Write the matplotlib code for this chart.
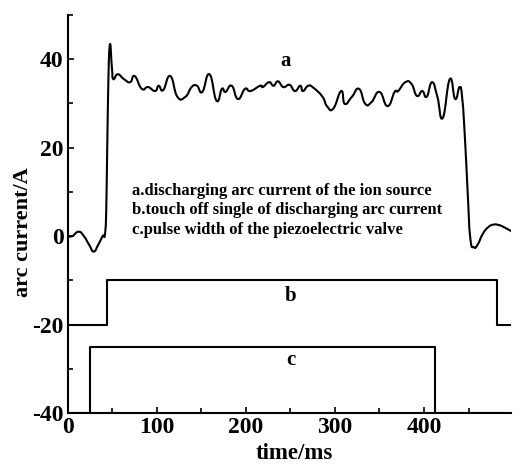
import matplotlib
matplotlib.use("Agg")
import matplotlib.pyplot as plt
from matplotlib.ticker import MultipleLocator, FuncFormatter
from matplotlib.path import Path
from matplotlib.patches import PathPatch

plt.rcParams['font.family'] = ['Liberation Serif', 'DejaVu Serif']
plt.rcParams['font.weight'] = 'bold'
plt.rcParams['axes.unicode_minus'] = False

# curve a: discharging arc current (ms, A)
t_a = [0, 5, 12, 18, 24, 29, 34, 39, 42, 43.5, 45, 47, 49.5, 51, 56, 63, 70, 75, 83, 90, 98, 102,
       107, 115, 123, 132, 139, 145, 151, 159, 167, 173, 177, 184, 191, 199, 205, 216, 219,
       226, 231, 236, 242, 249, 255, 261, 264, 270, 276, 286, 291, 298, 307, 311, 319, 327,
       334, 341, 350, 359, 367, 371, 379, 386, 392, 398, 403, 409, 415, 421, 429, 435, 440,
       443, 446, 449, 452, 456, 460, 466, 472, 478, 484, 490, 498]
v_a = [0, 0, 1, 0, -2, -3.5, -2, 0, 1, 10, 30, 43, 38, 35.5, 36.6, 35.5, 34.8, 36.2, 33.3, 33.7,
       32.8, 34, 33, 36.2, 31.5, 31.5, 33.7, 34, 32.6, 36.6, 30.6, 33.3, 32.6, 34, 31, 33.3,
       32.8, 34, 33.7, 34.8, 34, 35, 33.7, 34.2, 32.8, 34, 32.8, 34, 33.5, 31.5, 29.4, 28.8,
       32.8, 29.9, 31.5, 33.3, 29.9, 30.3, 32.6, 29.4, 32.6, 32.8, 34.8, 34.4, 31.7, 32.8,
       31.5, 34.8, 31.5, 26.7, 35.5, 31, 33.7, 31, 22, 10, -0.5, -2.5, -2, 0.5, 2, 2.6, 2.5, 2, 1.1]

# curve b: trigger signal
t_b = [0, 44, 44, 482, 482, 498]
v_b = [-20, -20, -10, -10, -20, -20]

# curve c: piezoelectric valve pulse width
t_c = [0, 25, 25, 412, 412, 498]
v_c = [-40, -40, -25, -25, -40, -40]

legend_lines = ["a.discharging arc current of the ion source",
                "b.touch off single of discharging arc current",
                "c.pulse width of the piezoelectric valve"]


def smooth_path(xs, ys, k=0.5):
    """Catmull-Rom style cubic Bezier path through the given points."""
    n = len(xs)
    verts = [(xs[0], ys[0])]
    codes = [Path.MOVETO]
    for i in range(n - 1):
        x0, y0 = (xs[i - 1], ys[i - 1]) if i > 0 else (xs[i], ys[i])
        x1, y1 = xs[i], ys[i]
        x2, y2 = xs[i + 1], ys[i + 1]
        x3, y3 = (xs[i + 2], ys[i + 2]) if i + 2 < n else (x2, y2)
        c1 = (x1 + (x2 - x0) * k / 3, y1 + (y2 - y0) * k / 3)
        c2 = (x2 - (x3 - x1) * k / 3, y2 - (y3 - y1) * k / 3)
        verts += [c1, c2, (x2, y2)]
        codes += [Path.CURVE4] * 3
    return Path(verts, codes)


fig = plt.figure(figsize=(5.26, 4.68), dpi=100)
ax = fig.add_axes([0.129, 0.1175, 0.843, 0.8505])

lw = 1.5
ax.add_patch(PathPatch(smooth_path(t_a, v_a, k=0.75), fill=False, edgecolor='black', lw=lw,
                       capstyle='round', joinstyle='round'))
ax.plot(t_b, v_b, color='black', lw=lw)
ax.plot(t_c, v_c, color='black', lw=lw)

ax.set_xlim(0, 498)
ax.set_ylim(-40, 50)
for s in ['top', 'right']:
    ax.spines[s].set_visible(False)
for s in ['left', 'bottom']:
    ax.spines[s].set_linewidth(1.5)

ax.xaxis.set_major_locator(MultipleLocator(100))
ax.xaxis.set_minor_locator(MultipleLocator(50))
ax.yaxis.set_minor_locator(MultipleLocator(10))
ax.set_yticks([-40, -20, 0, 20, 40])
ax.yaxis.set_major_formatter(FuncFormatter(lambda v, p: '%d' % v))
ax.tick_params(which='both', direction='in', width=1.2, labelsize=17, pad=3)
ax.tick_params(which='major', length=4)
ax.tick_params(which='minor', length=3.5)
for lab in ax.get_xticklabels() + ax.get_yticklabels():
    lab.set_fontweight('bold')

ax.set_xlabel('time/ms', fontsize=16.5, fontweight='bold')
ax.xaxis.set_label_coords(0.51, -0.075)
ax.set_ylabel('arc current/A', fontsize=16, fontweight='bold')
ax.yaxis.set_label_coords(-0.078, 0.455)

ax.text(244, 39.5, 'a', fontsize=15, fontweight='bold', ha='center', va='center')
ax.text(250, -13.5, 'b', fontsize=15, fontweight='bold', ha='center', va='center')
ax.text(250, -28, 'c', fontsize=15, fontweight='bold', ha='center', va='center')

for line, y in zip(legend_lines, [10.3, 5.8, 1.3]):
    ax.text(72, y, line, fontsize=12, fontweight='bold', ha='left', va='center')

fig.savefig('out.png', dpi=100)
